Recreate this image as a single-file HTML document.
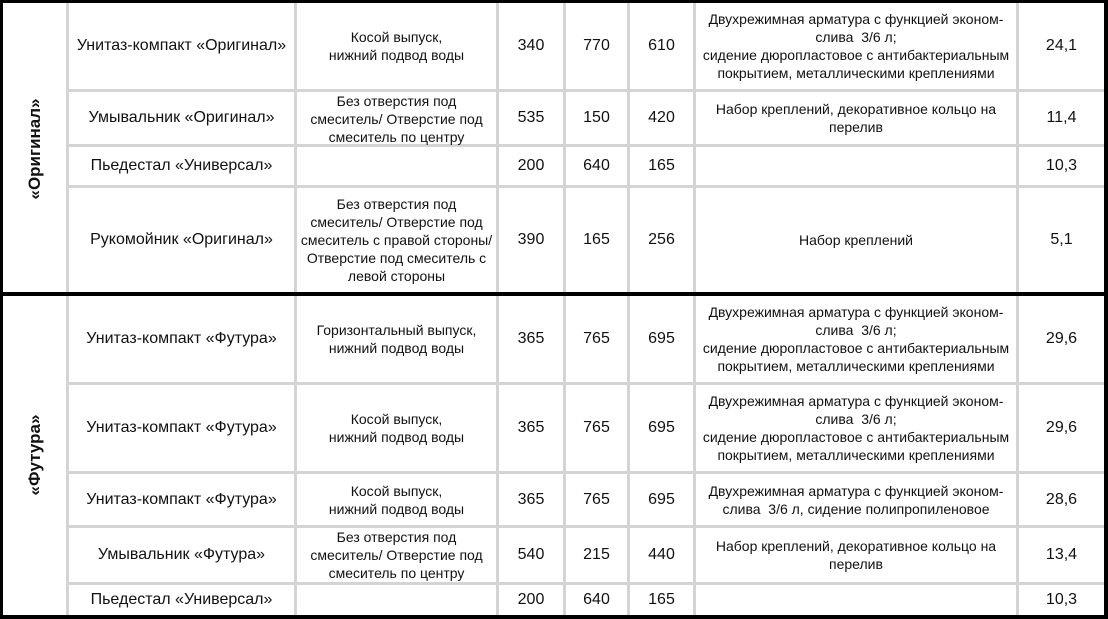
<!DOCTYPE html>
<html><head><meta charset="utf-8"><style>
body{margin:0;width:1108px;height:619px;background:#000;position:relative;overflow:hidden;font-family:"Liberation Sans",Arial,sans-serif;font-size:14px;color:#111}
.bg{position:absolute;left:3px;top:3px;width:1101px;height:612px;background:#fff}
.v,.h{position:absolute;background:#d4d4d4}
.v{width:3px}
.h{height:3px}
.b{position:absolute;background:#000}
.c{position:absolute;display:flex;align-items:center;justify-content:center;text-align:center;line-height:18px}
.n{font-size:16px}
.r{position:absolute;font-weight:bold;font-size:17px;transform:translate(-50%,-50%) rotate(-90deg);white-space:nowrap}
</style></head><body>
<div class="bg"></div>
<div class="v" style="left:66px;top:3px;height:612px"></div>
<div class="v" style="left:294px;top:3px;height:612px"></div>
<div class="v" style="left:496px;top:3px;height:612px"></div>
<div class="v" style="left:563px;top:3px;height:612px"></div>
<div class="v" style="left:627px;top:3px;height:612px"></div>
<div class="v" style="left:693px;top:3px;height:612px"></div>
<div class="v" style="left:1016px;top:3px;height:612px"></div>
<div class="h" style="left:69px;top:89px;width:1035px"></div>
<div class="h" style="left:69px;top:144px;width:1035px"></div>
<div class="h" style="left:69px;top:185px;width:1035px"></div>
<div class="h" style="left:69px;top:382px;width:1035px"></div>
<div class="h" style="left:69px;top:471px;width:1035px"></div>
<div class="h" style="left:69px;top:525px;width:1035px"></div>
<div class="h" style="left:69px;top:582px;width:1035px"></div>
<div class="b" style="left:0;top:292px;width:1108px;height:4px"></div>

<div class="r" style="left:35px;top:149px">«Оригинал»</div>
<div class="r" style="left:35px;top:455px">«Футура»</div>

<div class="c n" style="left:69px;top:3px;width:225px;height:86px">Унитаз-компакт «Оригинал»</div>
<div class="c" style="left:297px;top:3px;width:199px;height:86px">Косой выпуск,<br>нижний подвод воды</div>
<div class="c n" style="left:499px;top:3px;width:64px;height:86px">340</div>
<div class="c n" style="left:566px;top:3px;width:61px;height:86px">770</div>
<div class="c n" style="left:630px;top:3px;width:63px;height:86px">610</div>
<div class="c" style="left:696px;top:3px;width:320px;height:86px">Двухрежимная арматура с функцией эконом-<br>слива&nbsp; 3/6 л;<br>сидение дюропластовое с антибактериальным<br>покрытием, металлическими креплениями</div>
<div class="c n" style="left:1019px;top:3px;width:85px;height:86px">24,1</div>

<div class="c n" style="left:69px;top:92px;width:225px;height:52px">Умывальник «Оригинал»</div>
<div class="c" style="left:297px;top:92px;width:199px;height:52px;align-items:flex-start">Без отверстия под<br>смеситель/ Отверстие под<br>смеситель по центру</div>
<div class="c n" style="left:499px;top:92px;width:64px;height:52px">535</div>
<div class="c n" style="left:566px;top:92px;width:61px;height:52px">150</div>
<div class="c n" style="left:630px;top:92px;width:63px;height:52px">420</div>
<div class="c" style="left:696px;top:92px;width:320px;height:52px;align-items:flex-start;padding-top:8px;box-sizing:border-box">Набор креплений, декоративное кольцо на<br>перелив</div>
<div class="c n" style="left:1019px;top:92px;width:85px;height:52px">11,4</div>

<div class="c n" style="left:69px;top:147px;width:225px;height:38px">Пьедестал «Универсал»</div>
<div class="c n" style="left:499px;top:147px;width:64px;height:38px">200</div>
<div class="c n" style="left:566px;top:147px;width:61px;height:38px">640</div>
<div class="c n" style="left:630px;top:147px;width:63px;height:38px">165</div>
<div class="c n" style="left:1019px;top:147px;width:85px;height:38px">10,3</div>

<div class="c n" style="left:69px;top:188px;width:225px;height:104px">Рукомойник «Оригинал»</div>
<div class="c" style="left:297px;top:188px;width:199px;height:104px">Без отверстия под<br>смеситель/ Отверстие под<br>смеситель с правой стороны/<br>Отверстие под смеситель с<br>левой стороны</div>
<div class="c n" style="left:499px;top:188px;width:64px;height:104px">390</div>
<div class="c n" style="left:566px;top:188px;width:61px;height:104px">165</div>
<div class="c n" style="left:630px;top:188px;width:63px;height:104px">256</div>
<div class="c" style="left:696px;top:188px;width:320px;height:104px">Набор креплений</div>
<div class="c n" style="left:1019px;top:188px;width:85px;height:104px">5,1</div>

<div class="c n" style="left:69px;top:296px;width:225px;height:86px">Унитаз-компакт «Футура»</div>
<div class="c" style="left:297px;top:296px;width:199px;height:86px;align-items:flex-start;padding-top:25px;box-sizing:border-box">Горизонтальный выпуск,<br>нижний подвод воды</div>
<div class="c n" style="left:499px;top:296px;width:64px;height:86px">365</div>
<div class="c n" style="left:566px;top:296px;width:61px;height:86px">765</div>
<div class="c n" style="left:630px;top:296px;width:63px;height:86px">695</div>
<div class="c" style="left:696px;top:296px;width:320px;height:86px">Двухрежимная арматура с функцией эконом-<br>слива&nbsp; 3/6 л;<br>сидение дюропластовое с антибактериальным<br>покрытием, металлическими креплениями</div>
<div class="c n" style="left:1019px;top:296px;width:85px;height:86px">29,6</div>

<div class="c n" style="left:69px;top:385px;width:225px;height:86px">Унитаз-компакт «Футура»</div>
<div class="c" style="left:297px;top:385px;width:199px;height:86px">Косой выпуск,<br>нижний подвод воды</div>
<div class="c n" style="left:499px;top:385px;width:64px;height:86px">365</div>
<div class="c n" style="left:566px;top:385px;width:61px;height:86px">765</div>
<div class="c n" style="left:630px;top:385px;width:63px;height:86px">695</div>
<div class="c" style="left:696px;top:385px;width:320px;height:86px">Двухрежимная арматура с функцией эконом-<br>слива&nbsp; 3/6 л;<br>сидение дюропластовое с антибактериальным<br>покрытием, металлическими креплениями</div>
<div class="c n" style="left:1019px;top:385px;width:85px;height:86px">29,6</div>

<div class="c n" style="left:69px;top:474px;width:225px;height:51px">Унитаз-компакт «Футура»</div>
<div class="c" style="left:297px;top:474px;width:199px;height:51px">Косой выпуск,<br>нижний подвод воды</div>
<div class="c n" style="left:499px;top:474px;width:64px;height:51px">365</div>
<div class="c n" style="left:566px;top:474px;width:61px;height:51px">765</div>
<div class="c n" style="left:630px;top:474px;width:63px;height:51px">695</div>
<div class="c" style="left:696px;top:474px;width:320px;height:51px">Двухрежимная арматура с функцией эконом-<br>слива&nbsp; 3/6 л, сидение полипропиленовое</div>
<div class="c n" style="left:1019px;top:474px;width:85px;height:51px">28,6</div>

<div class="c n" style="left:69px;top:528px;width:225px;height:54px">Умывальник «Футура»</div>
<div class="c" style="left:297px;top:528px;width:199px;height:54px;align-items:flex-start">Без отверстия под<br>смеситель/ Отверстие под<br>смеситель по центру</div>
<div class="c n" style="left:499px;top:528px;width:64px;height:54px">540</div>
<div class="c n" style="left:566px;top:528px;width:61px;height:54px">215</div>
<div class="c n" style="left:630px;top:528px;width:63px;height:54px">440</div>
<div class="c" style="left:696px;top:528px;width:320px;height:54px;align-items:flex-start;padding-top:9px;box-sizing:border-box">Набор креплений, декоративное кольцо на<br>перелив</div>
<div class="c n" style="left:1019px;top:528px;width:85px;height:54px">13,4</div>

<div class="c n" style="left:69px;top:585px;width:225px;height:30px">Пьедестал «Универсал»</div>
<div class="c n" style="left:499px;top:585px;width:64px;height:30px">200</div>
<div class="c n" style="left:566px;top:585px;width:61px;height:30px">640</div>
<div class="c n" style="left:630px;top:585px;width:63px;height:30px">165</div>
<div class="c n" style="left:1019px;top:585px;width:85px;height:30px">10,3</div>
</body></html>
